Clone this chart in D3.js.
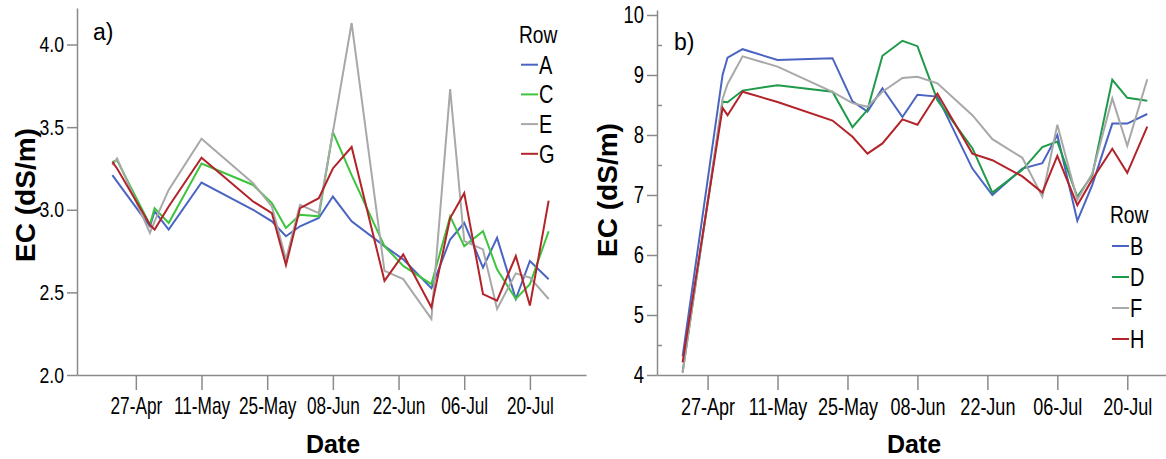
<!DOCTYPE html>
<html>
<head>
<meta charset="UTF-8">
<style>
  body { margin: 0; background: #fff; }
  svg { display: block; }
  .tick text { font-family: 'Liberation Sans', Arial, sans-serif; fill: #000; }
</style>
</head>
<body>
<svg id="chart" width="1166" height="459"></svg>
<script src="https://d3js.org/d3.v7.min.js"></script>
<script>

// ---- data ----
const tickDates = ["2018-04-27", "2018-05-11", "2018-05-25", "2018-06-08", "2018-06-22", "2018-07-06", "2018-07-20"];

// panel a) rows A, C, E, G
const datesA = ["2018-04-22", "2018-04-23", "2018-04-30", "2018-05-01", "2018-05-04", "2018-05-11",
  "2018-05-22", "2018-05-26", "2018-05-29", "2018-06-01", "2018-06-05", "2018-06-08", "2018-06-12",
  "2018-06-19", "2018-06-23", "2018-06-29", "2018-07-03", "2018-07-06", "2018-07-10", "2018-07-13",
  "2018-07-17", "2018-07-20", "2018-07-24"];
const rowA = [3.21, 3.17, 2.90, 2.99, 2.88, 3.165, 3.00, 2.93, 2.84, 2.90, 2.95, 3.08, 2.93,
  2.78, 2.70, 2.525, 2.82, 2.92, 2.65, 2.83, 2.46, 2.69, 2.58];
const rowC = [3.29, 3.30, 2.91, 3.01, 2.92, 3.28, 3.15, 3.04, 2.89, 2.97, 2.96, 3.47, 3.21,
  2.78, 2.66, 2.55, 2.96, 2.78, 2.87, 2.64, 2.46, 2.55, 2.87];
const rowE = [3.27, 3.31, 2.86, 2.93, 3.12, 3.43, 3.16, 3.02, 2.70, 3.03, 2.98, 3.47, 4.13,
  2.63, 2.58, 2.34, 3.73, 2.81, 2.76, 2.40, 2.615, 2.59, 2.46];
const rowG = [3.29, 3.25, 2.91, 2.88, 3.02, 3.315, 3.05, 2.98, 2.665, 3.01, 3.07, 3.25, 3.38,
  2.57, 2.73, 2.41, 2.95, 3.10, 2.49, 2.45, 2.72, 2.42, 3.055];

// panel b) rows B, D, F, H
const datesB = ["2018-04-22", "2018-04-30", "2018-05-01", "2018-05-04", "2018-05-11",
  "2018-05-22", "2018-05-26", "2018-05-29", "2018-06-01", "2018-06-05", "2018-06-08", "2018-06-12",
  "2018-06-19", "2018-06-23", "2018-06-29", "2018-07-03", "2018-07-06", "2018-07-10", "2018-07-13",
  "2018-07-17", "2018-07-20", "2018-07-24"];
const rowB = [4.31, 9.00, 9.29, 9.43, 9.25, 9.28, 8.56, 8.39, 8.78, 8.30, 8.67, 8.64,
  7.44, 7.00, 7.44, 7.53, 8.00, 6.57, 7.17, 8.19, 8.19, 8.35];
const rowD = [4.05, 8.555, 8.545, 8.74, 8.83, 8.72, 8.13, 8.42, 9.32, 9.57, 9.48, 8.58,
  7.78, 7.04, 7.42, 7.80, 7.89, 6.97, 7.33, 8.92, 8.62, 8.57];
const rowF = [4.03, 8.60, 8.85, 9.31, 9.14, 8.72, 8.53, 8.47, 8.72, 8.95, 8.97, 8.86,
  8.33, 7.93, 7.62, 6.97, 8.17, 6.92, 7.36, 8.61, 7.82, 8.93];
const rowH = [4.21, 8.45, 8.33, 8.72, 8.55, 8.24, 7.97, 7.69, 7.86, 8.26, 8.17, 8.69,
  7.69, 7.58, 7.31, 7.04, 7.65, 6.83, 7.26, 7.77, 7.37, 8.14];

const ticksYA = [2.0, 2.5, 3.0, 3.5, 4.0];
const ticksYB = [4, 5, 6, 7, 8, 9, 10];
const minorYB = [4.5, 5.5, 6.5, 7.5, 8.5, 9.5];

const parse = d3.timeParse("%Y-%m-%d");
const font = "'Liberation Sans', Arial, sans-serif";
const squeeze = 0.8;   // narrow look of the original labels
const squeezeX = 0.75; // date labels are a bit narrower still
const axisColor = "#8a8a8a";

const svg = d3.select("#chart");

function drawPanel(p) {
  const g = svg.append("g");

  const x = d3.scaleTime().domain(p.xDomain).range([p.left, p.right]);
  const y = d3.scaleLinear().domain(p.yDomain).range([p.bottom, p.top]);

  // axes
  const xAxis = g.append("g")
    .attr("transform", "translate(0," + p.bottom + ")")
    .call(d3.axisBottom(x)
      .tickValues(tickDates.map(parse))
      .tickFormat(d3.timeFormat("%d-%b"))
      .tickSize(15).tickSizeOuter(0).tickPadding(8));
  xAxis.selectAll("text")
    .style("font-size", p.xFont + "px")
    .attr("transform", "scale(" + squeezeX + ",1)");

  const yAxis = g.append("g")
    .attr("transform", "translate(" + p.left + ",0)")
    .call(d3.axisLeft(y)
      .tickValues(p.yTicks)
      .tickFormat(p.yFormat)
      .tickSize(10).tickSizeOuter(0).tickPadding(3));
  yAxis.selectAll("text")
    .style("font-size", p.yFont + "px")
    .attr("x", -13 / squeeze)
    .attr("transform", "scale(" + squeeze + ",1)");

  if (p.yMinor) {
    g.append("g")
      .attr("transform", "translate(" + p.left + ",0)")
      .call(d3.axisLeft(y).tickValues(p.yMinor).tickSize(-5).tickFormat(""))
      .select(".domain").remove();
  }

  g.selectAll(".domain, .tick line").attr("stroke", axisColor).attr("stroke-width", 1.5);

  // lines
  const line = d3.line()
    .x(d => x(d.date))
    .y(d => y(d.value));

  p.series.forEach(s => {
    const pts = p.dates.map((d, i) => ({ date: parse(d), value: s.values[i] }));
    g.append("path")
      .datum(pts)
      .attr("fill", "none")
      .attr("stroke", s.color)
      .attr("stroke-width", 2)
      .attr("d", line);
  });

  // panel label
  g.append("text")
    .attr("x", p.label[1]).attr("y", p.label[2])
    .style("font-family", font).style("font-size", "23px")
    .text(p.label[0]);

  // axis titles
  g.append("text")
    .attr("x", p.dateX).attr("y", 453)
    .attr("text-anchor", "middle")
    .style("font-family", font).style("font-weight", "bold").style("font-size", "25px")
    .text("Date");

  g.append("text")
    .attr("transform", "translate(" + p.ecX + "," + p.ecY + ") rotate(-90)")
    .attr("text-anchor", "middle")
    .style("font-family", font).style("font-weight", "bold").style("font-size", "28px")
    .text("EC (dS/m)");

  // legend
  const leg = g.append("g").attr("transform", "translate(" + p.legX + "," + p.legY + ")");
  leg.append("text")
    .attr("transform", "translate(-2,0) scale(" + squeeze + ",1)")
    .style("font-family", font).style("font-size", "24px")
    .text("Row");
  p.series.forEach((s, i) => {
    const yy = p.legGap * (i + 1) - 8;
    leg.append("line")
      .attr("x1", 0).attr("x2", 17).attr("y1", yy).attr("y2", yy)
      .attr("stroke", s.color).attr("stroke-width", 2);
    leg.append("text")
      .attr("transform", "translate(18," + (yy + 9) + ") scale(" + squeeze + ",1)")
      .style("font-family", font).style("font-size", "25px")
      .text(s.name);
  });
}

drawPanel({
  left: 77, right: 586, top: 8, bottom: 375,
  xDomain: [new Date(2018, 3, 14, 11), new Date(2018, 6, 31, 23)],
  yDomain: [2, 4.221],
  yTicks: ticksYA, yFormat: d3.format(".1f"), yMinor: null,
  xFont: 23, yFont: 22,
  dates: datesA,
  series: [
    { name: "A", values: rowA, color: "#4a64c2" },
    { name: "C", values: rowC, color: "#3ec43e" },
    { name: "E", values: rowE, color: "#a8a8a8" },
    { name: "G", values: rowG, color: "#b2232a" }
  ],
  label: ["a)", 93, 40],
  dateX: 333, ecX: 35, ecY: 195,
  legX: 521, legY: 43, legGap: 29.7
});

drawPanel({
  left: 657, right: 1166, top: 10, bottom: 375,
  xDomain: [new Date(2018, 3, 16, 21), new Date(2018, 6, 27, 18)],
  yDomain: [4, 10.083],
  yTicks: ticksYB, yFormat: d3.format("d"), yMinor: minorYB,
  xFont: 24, yFont: 23,
  dates: datesB,
  series: [
    { name: "B", values: rowB, color: "#4a64c2" },
    { name: "D", values: rowD, color: "#1f9a4a" },
    { name: "F", values: rowF, color: "#a8a8a8" },
    { name: "H", values: rowH, color: "#b2232a" }
  ],
  label: ["b)", 674, 50],
  dateX: 914, ecX: 617, ecY: 190,
  legX: 1112, legY: 223, legGap: 31
});

</script>
</body>
</html>
